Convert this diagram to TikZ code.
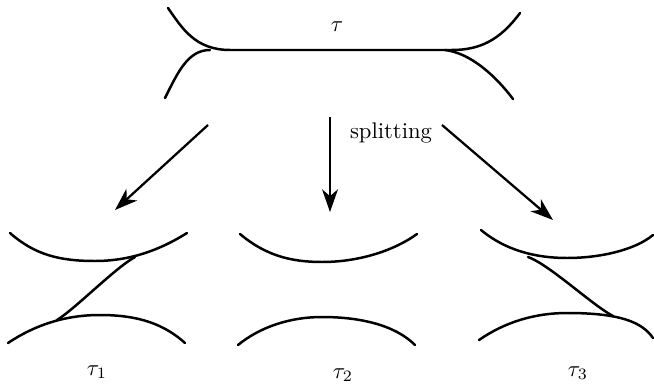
\documentclass[tikz,border=0pt]{standalone}
\usetikzlibrary{arrows.meta}
\begin{document}
\begin{tikzpicture}[
    x=0.4415pt, y=-0.4415pt,
    >={Stealth[length=10pt,width=7pt,inset=3pt]},
    track/.style={line width=1.1pt,line cap=round},
    arr/.style={->,line width=1pt}
]
\useasboundingbox (0,0) rectangle (654,391);

% tau, the track before splitting
\draw[track] (168,8) .. controls (182,28) and (195,50) .. (230,50) -- (452,50);
\draw[track] (165,98) .. controls (178,72) and (188,50) .. (210,50);
\draw[track] (452,50) .. controls (480,50) and (500,40) .. (520,13);
\draw[track] (445,50) .. controls (470,53) and (495,75) .. (513,99);
\node (tau) at (337,27) {$\tau$};

% arrows
\coordinate (lfrom) at (208,125);
\coordinate (lto)   at (115,210);
\coordinate (mfrom) at (330,117);
\coordinate (mto)   at (330,212);
\coordinate (rfrom) at (442,125);
\coordinate (rto)   at (553,220);
\draw[arr] (lfrom) -- (lto);
\draw[arr] (mfrom) -- (mto);
\draw[arr] (rfrom) -- (rto);
\node (split) at (391,133) {splitting};

% tau_1
\draw[track] (10,233) .. controls (35,255) and (60,261) .. (95,261) .. controls (130,261) and (160,250) .. (187,233);
\draw[track] (8,343) .. controls (35,325) and (65,315) .. (100,315) .. controls (140,315) and (165,325) .. (185,343);
\draw[track] (57,320) .. controls (75,309) and (115,268) .. (135,257);
\node (tau1) at (97,372) {$\tau_1$};

% tau_2
\draw[track] (240,234) .. controls (265,255) and (290,262) .. (322,262) .. controls (360,262) and (395,250) .. (417,234);
\draw[track] (238,345) .. controls (260,327) and (290,317) .. (322,317) .. controls (360,317) and (395,325) .. (415,345);
\node (tau2) at (343,375) {$\tau_2$};

% tau_3
\draw[track] (481,230) .. controls (505,250) and (535,258) .. (567,258) .. controls (600,258) and (635,250) .. (653,235);
\draw[track] (479,340) .. controls (505,322) and (535,313) .. (567,313) .. controls (620,313) and (642,322) .. (653,338);
\draw[track] (528,257) .. controls (550,265) and (592,305) .. (613,316);
\node (tau3) at (578,373) {$\tau_3$};
\end{tikzpicture}
\end{document}
